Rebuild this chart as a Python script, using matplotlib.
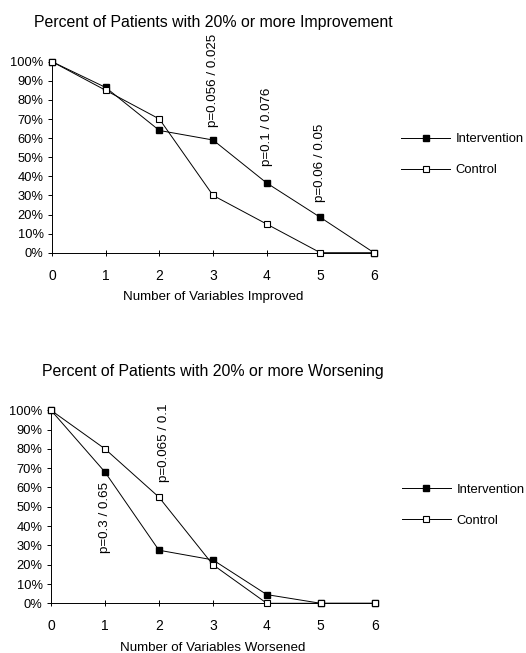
import matplotlib
matplotlib.use('Agg')
import matplotlib.pyplot as plt
from matplotlib.ticker import FuncFormatter

plt.rcParams['font.family'] = ['Liberation Sans', 'DejaVu Sans']

x = [0, 1, 2, 3, 4, 5, 6]

# Verbesserung
impr_interv = [100, 86.5, 64, 59, 36.5, 18.5, 0]
impr_control = [100, 85, 70, 30, 15, 0, 0]
impr_pvals = ['p=0.056 / 0.025', 'p=0.1 / 0.076', 'p=0.06 / 0.05']
impr_pval_x = [3, 4, 5]
impr_pval_y = [66, 45.5, 26.5]

# Verschlechterung
worse_interv = [100, 68, 27.5, 22.5, 4.5, 0, 0]
worse_control = [100, 80, 55, 20, 0, 0, 0]
worse_pvals = ['p=0.3 / 0.65', 'p=0.065 / 0.1']
worse_pval_x = [1, 2.1]
worse_pval_y = [63, 63]


def draw(ax, title, xlabel, yi, yc, ptxt, px, py, pva, leg_y):
    ax.plot(x, yi, color='black', lw=0.7, marker='s', ms=4.3,
            mfc='black', mec='black', label='Intervention', clip_on=False, zorder=3)
    ax.plot(x, yc, color='black', lw=0.7, marker='s', ms=4.3,
            mfc='white', mec='black', mew=0.8, label='Control', clip_on=False, zorder=3)
    ax.set_xlim(0, 6)
    ax.set_ylim(0, 100)
    ax.set_yticks(range(0, 101, 10))
    ax.set_xticks(x)
    ax.yaxis.set_major_formatter(FuncFormatter(lambda v, _: f'{int(v)}%'))
    for s in ['top', 'right']:
        ax.spines[s].set_visible(False)
    ax.spines['left'].set_linewidth(0.7)
    ax.spines['bottom'].set_linewidth(0.7)
    ax.tick_params(axis='y', direction='out', length=3, width=0.7, pad=3, labelsize=9.3)
    ax.tick_params(axis='x', direction='inout', length=5, width=0.7, pad=9, labelsize=10)
    ax.set_title(title, fontsize=11.4, pad=25)
    ax.set_xlabel(xlabel, fontsize=9.6, labelpad=6)
    for t, xx, yy, va in zip(ptxt, px, py, pva):
        ax.text(xx, yy, t, rotation=90, ha='center', va=va, fontsize=9.6)
    ax.legend(loc='center left', bbox_to_anchor=(1.057, leg_y), frameon=False,
              fontsize=9.4, handlelength=3.7, labelspacing=1.45, handletextpad=0.45,
              borderaxespad=0.3)


fig = plt.figure(figsize=(5.26, 6.53), dpi=100)
ax1 = fig.add_axes([0.099, 0.613, 0.612, 0.2925])
ax2 = fig.add_axes([0.097, 0.0761, 0.6154, 0.2956])

draw(ax1, 'Percent of Patients with 20% or more Improvement', 'Number of Variables Improved',
     impr_interv, impr_control, impr_pvals, impr_pval_x, impr_pval_y, ['bottom'] * 3, 0.513)
draw(ax2, 'Percent of Patients with 20% or more Worsening', 'Number of Variables Worsened',
     worse_interv, worse_control, worse_pvals, worse_pval_x, worse_pval_y, ['top', 'bottom'], 0.509)

fig.savefig('out.png', dpi=100)
